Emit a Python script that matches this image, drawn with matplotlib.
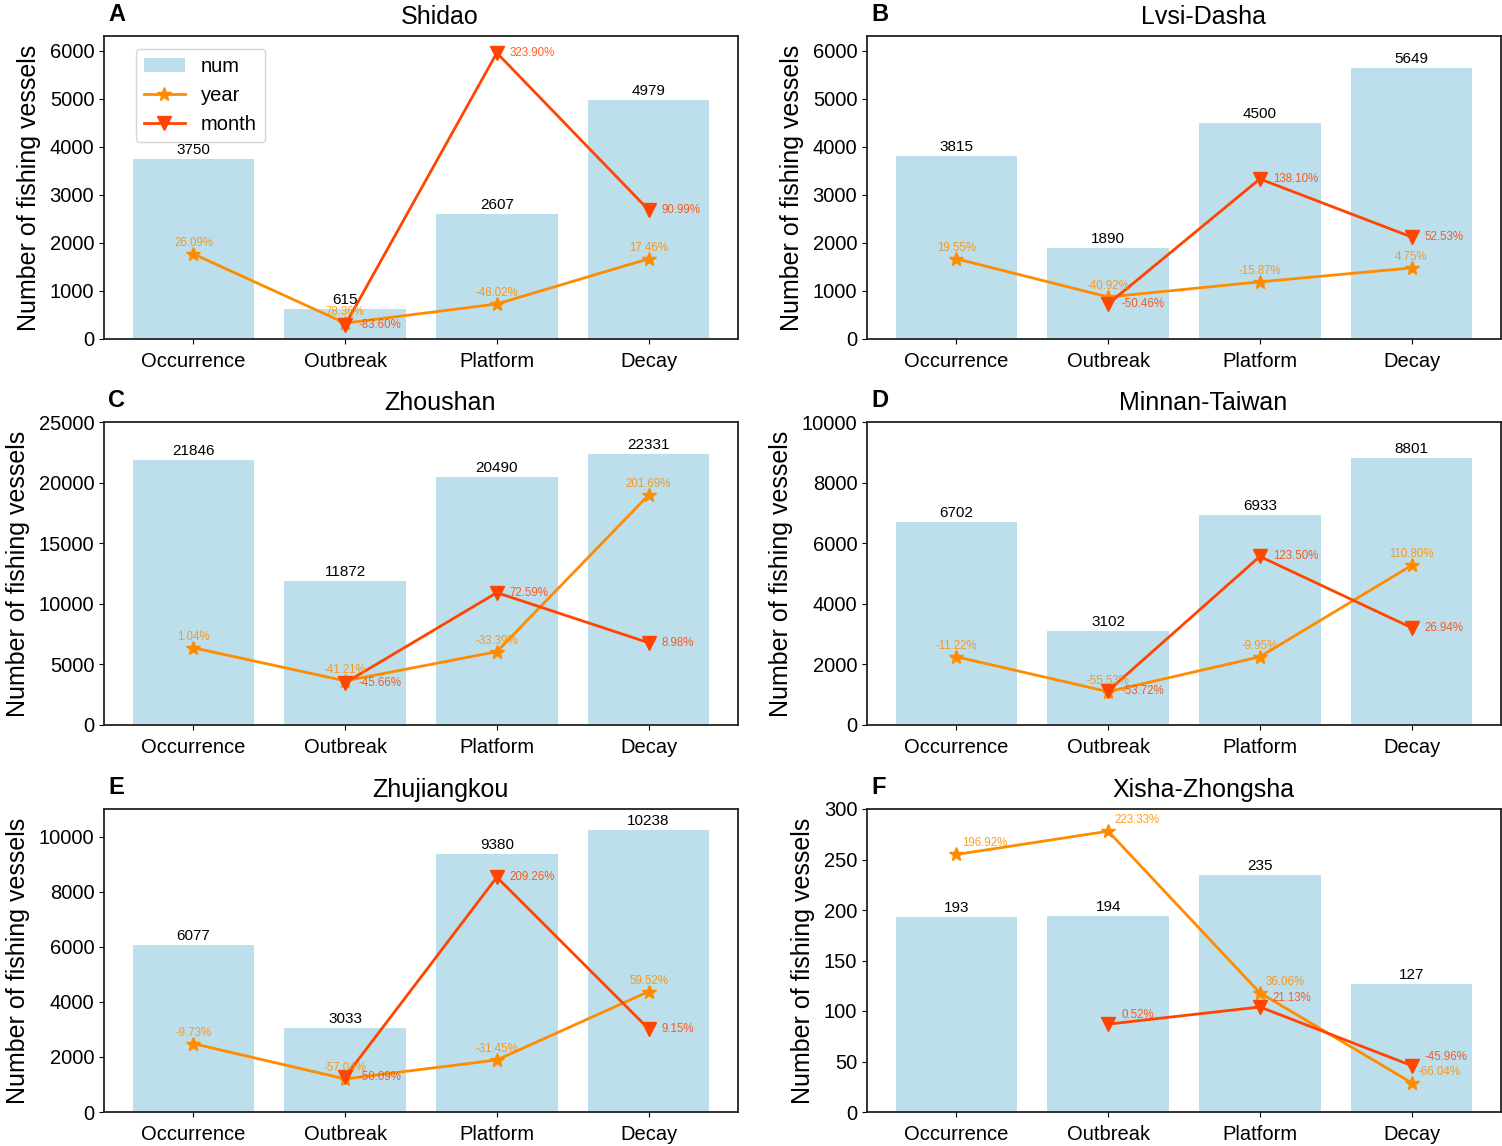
import numpy as np
import matplotlib
matplotlib.use('Agg')
import matplotlib.pyplot as plt

plt.rcParams['font.family'] = ['Liberation Sans', 'DejaVu Sans']

# stages on the x axis
stages = ['Occurrence', 'Outbreak', 'Platform', 'Decay']
regions = ['Shidao', 'Lvsi-Dasha', 'Zhoushan', 'Minnan-Taiwan', 'Zhujiangkou', 'Xisha-Zhongsha']
letters = ['A', 'B', 'C', 'D', 'E', 'F']

# number of fishing vessels (bars)
num_A = [3750, 615, 2607, 4979]
num_B = [3815, 1890, 4500, 5649]
num_C = [21846, 11872, 20490, 22331]
num_D = [6702, 3102, 6933, 8801]
num_E = [6077, 3033, 9380, 10238]
num_F = [193, 194, 235, 127]

# year-on-year line (heights as drawn on the vessel axis) and its labels
year_A = [1770, 330, 730, 1670]
year_B = [1670, 875, 1190, 1480]
year_C = [6370, 3640, 6050, 18960]
year_D = [2250, 1100, 2250, 5265]
year_E = [2480, 1200, 1890, 4370]
year_F = [255, 278, 118, 29]
year_lab_A = ['26.09%', '78.36%', '-48.02%', '17.46%']
year_lab_B = ['19.55%', '-40.92%', '-15.87%', '4.75%']
year_lab_C = ['1.04%', '-41.21%', '-33.39%', '201.69%']
year_lab_D = ['-11.22%', '-55.53%', '-9.95%', '110.80%']
year_lab_E = ['-9.73%', '-57.04%', '-31.45%', '59.52%']
year_lab_F = ['196.92%', '223.33%', '36.06%', '-66.04%']

# month-on-month line (no value for Occurrence)
month_A = [np.nan, 292, 5958, 2690]
month_B = [np.nan, 730, 3333, 2125]
month_C = [np.nan, 3477, 10920, 6790]
month_D = [np.nan, 1126, 5563, 3212]
month_E = [np.nan, 1275, 8525, 3024]
month_F = [np.nan, 87, 104, 46]
month_lab_A = ['', '-83.60%', '323.90%', '90.99%']
month_lab_B = ['', '-50.46%', '138.10%', '52.53%']
month_lab_C = ['', '-45.66%', '72.59%', '8.98%']
month_lab_D = ['', '-53.72%', '123.50%', '26.94%']
month_lab_E = ['', '-50.09%', '209.26%', '9.15%']
month_lab_F = ['', '0.52%', '21.13%', '-45.96%']

ytops = [6310, 6310, 25000, 10000, 11000, 300]

nums = [num_A, num_B, num_C, num_D, num_E, num_F]
years = [year_A, year_B, year_C, year_D, year_E, year_F]
months = [month_A, month_B, month_C, month_D, month_E, month_F]
year_labs = [year_lab_A, year_lab_B, year_lab_C, year_lab_D, year_lab_E, year_lab_F]
month_labs = [month_lab_A, month_lab_B, month_lab_C, month_lab_D, month_lab_E, month_lab_F]

fig = plt.figure(figsize=(15.02, 11.46), dpi=100)
W, H = 1502, 1146
lefts = [104, 867]
tops = [36, 422, 809]
aw, ah = 634, 303

x = np.arange(len(stages))
for i in range(6):
    r, c = divmod(i, 2)
    ax = fig.add_axes([lefts[c] / W, 1 - (tops[r] + ah) / H, aw / W, ah / H])
    b = ax.bar(x, nums[i], width=0.8, color='lightblue', alpha=0.8, label='num')
    l1, = ax.plot(x, years[i], color='darkorange', marker='*', markersize=10, linewidth=2, label='year')
    l2, = ax.plot(x, months[i], color='orangered', marker='v', markersize=10, linewidth=2, label='month')
    for j in range(len(stages)):
        ax.annotate(str(nums[i][j]), (x[j], nums[i][j]), xytext=(0, 2), textcoords='offset pixels',
                    ha='center', va='bottom', fontsize=11)
        if i == 5:
            ax.annotate(year_labs[i][j], (x[j], years[i][j]), xytext=(6, 5), textcoords='offset pixels',
                        ha='left', va='bottom', fontsize=8.3, color='darkorange', alpha=0.85)
        else:
            ax.annotate(year_labs[i][j], (x[j], years[i][j]), xytext=(0, 5), textcoords='offset pixels',
                        ha='center', va='bottom', fontsize=8.3, color='darkorange', alpha=0.85)
        if month_labs[i][j]:
            dy = 9 if i == 5 else 0
            ax.annotate(month_labs[i][j], (x[j], months[i][j]), xytext=(13, dy), textcoords='offset pixels',
                        ha='left', va='center', fontsize=8.3, color='orangered', alpha=0.85)
    ax.set_ylim(0, ytops[i])
    ax.set_xticks(x)
    ax.set_xticklabels(stages, fontsize=14.5)
    ax.tick_params(axis='x', pad=6)
    ax.tick_params(axis='y', labelsize=14.5)
    ax.set_ylabel('Number of fishing vessels', fontsize=18, labelpad=6)
    ax.set_title(regions[i], fontsize=18, x=0.53, pad=8.5)
    for s in ax.spines.values():
        s.set_linewidth(1.3)
        s.set_color('#222222')
    ax.annotate(letters[i], xy=(0, 1), xycoords='axes fraction', xytext=(4, 10),
                textcoords='offset pixels', ha='left', va='bottom', fontsize=17, fontweight='bold')
    if i == 0:
        ax.legend([b, l1, l2], ['num', 'year', 'month'], loc='upper left', fontsize=14.5,
                  bbox_to_anchor=(0.035, 0.99))

fig.savefig('out.png', dpi=100)
